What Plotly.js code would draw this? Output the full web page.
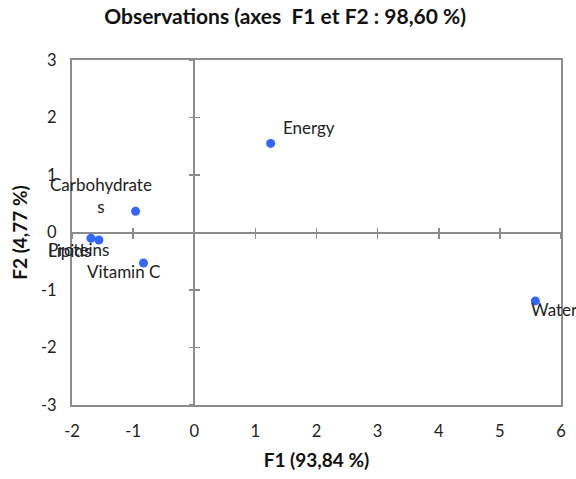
<!DOCTYPE html>
<html><head><meta charset="utf-8">
<script src="https://cdn.plot.ly/plotly-3.0.1.min.js"></script>
<style>html,body{margin:0;padding:0;background:#fff}</style>
</head><body>
<div id="chart" style="width:576px;height:479px"></div>
<script>
const labels = ["Energy", "Carbohydrate<br>s", "Vitamin C", "Water", "Proteins", "Lipids"];
const f1 = [1.25, -0.96, -0.83, 5.58, -1.56, -1.69];
const f2 = [1.55, 0.37, -0.53, -1.19, -0.13, -0.10];
const xTicks = [-2, -1, 0, 1, 2, 3, 4, 5, 6];
const xTickText = ["-2", "-1", "0", "1", "2", "3", "4", "5", "6"];
const yTicks = [-3, -2, -1, 0, 1, 2, 3];
const yTickText = ["-3", "-2", "-1", "0", "1", "2", "3"];

// label placement styles (pixel offsets relative to the point)
const labelStyle = [
  {xanchor: "left", xshift: 10, yshift: 16},
  {xanchor: "center", xshift: -35, yshift: 16},
  {xanchor: "center", xshift: -20, yshift: -9},
  {xanchor: "left", xshift: -6, yshift: -9},
  {xanchor: "left", xshift: -53, yshift: -10},
  {xanchor: "left", xshift: -45, yshift: -12}
];

const font = "Lato, 'Open Sans', sans-serif";
const gray = "#8c8c8c";

const annotations = labels.map((t, i) => Object.assign({
  x: f1[i], y: f2[i], xref: "x", yref: "y", text: t, showarrow: false,
  yanchor: "middle", font: {family: font, size: 17, color: "#222"}
}, labelStyle[i]));

const data = [
  {x: f1, y: f2, mode: "markers", type: "scatter",
   marker: {color: "#3366ff", size: 9}, hoverinfo: "skip", cliponaxis: false},
  {x: [], y: [], xaxis: "x2", yaxis: "y2", type: "scatter", mode: "markers"},
  {x: [], y: [], xaxis: "x3", yaxis: "y3", type: "scatter", mode: "markers"}
];

const tickAxisX = (side) => ({
  overlaying: "x", anchor: "free", position: 0.5, range: [-2, 6],
  tickvals: xTicks, ticks: side, ticklen: 5, tickwidth: 1.5, tickcolor: gray,
  showticklabels: false, showgrid: false, zeroline: false, showline: false
});
const tickAxisY = (side) => ({
  overlaying: "y", anchor: "free", position: 0.25, range: [-3, 3],
  tickvals: yTicks, ticks: side, ticklen: 5, tickwidth: 1.5, tickcolor: gray,
  showticklabels: false, showgrid: false, zeroline: false, showline: false
});

const layout = {
  width: 576, height: 479,
  margin: {l: 72, r: 15, t: 60, b: 74},
  paper_bgcolor: "#fff", plot_bgcolor: "#fff",
  showlegend: false,
  font: {family: font, size: 16, color: "#222"},
  title: {text: "<b>Observations (axes  F1 et F2 : 98,60 %)</b>",
          x: 0.495, xanchor: "center", y: 0.966, yanchor: "middle",
          font: {family: font, size: 21, color: "#111"}},
  xaxis: {range: [-2, 6], tickvals: xTicks, ticktext: xTickText, ticks: "outside", ticklen: 10,
          tickcolor: "rgba(0,0,0,0)", showgrid: false,
          zeroline: true, zerolinecolor: gray, zerolinewidth: 2,
          showline: true, linecolor: gray, linewidth: 2, mirror: true,
          tickfont: {family: font, size: 16.5, color: "#222"},
          title: {text: "<b>F1 (93,84 %)</b>", standoff: 14,
                  font: {family: font, size: 19, color: "#111"}}},
  yaxis: {range: [-3, 3], tickvals: yTicks, ticktext: yTickText, ticks: "outside", ticklen: 10,
          tickcolor: "rgba(0,0,0,0)", showgrid: false,
          zeroline: true, zerolinecolor: gray, zerolinewidth: 2,
          showline: true, linecolor: gray, linewidth: 2, mirror: true,
          tickfont: {family: font, size: 16.5, color: "#222"},
          title: {text: "<b>F2 (4,77 %)</b>", standoff: 8,
                  font: {family: font, size: 19, color: "#111"}}},
  xaxis2: tickAxisX("outside"),
  xaxis3: tickAxisX("inside"),
  yaxis2: tickAxisY("outside"),
  yaxis3: tickAxisY("inside"),
  annotations: annotations
};

Plotly.newPlot("chart", data, layout, {displayModeBar: false, staticPlot: true});
</script>
</body></html>
